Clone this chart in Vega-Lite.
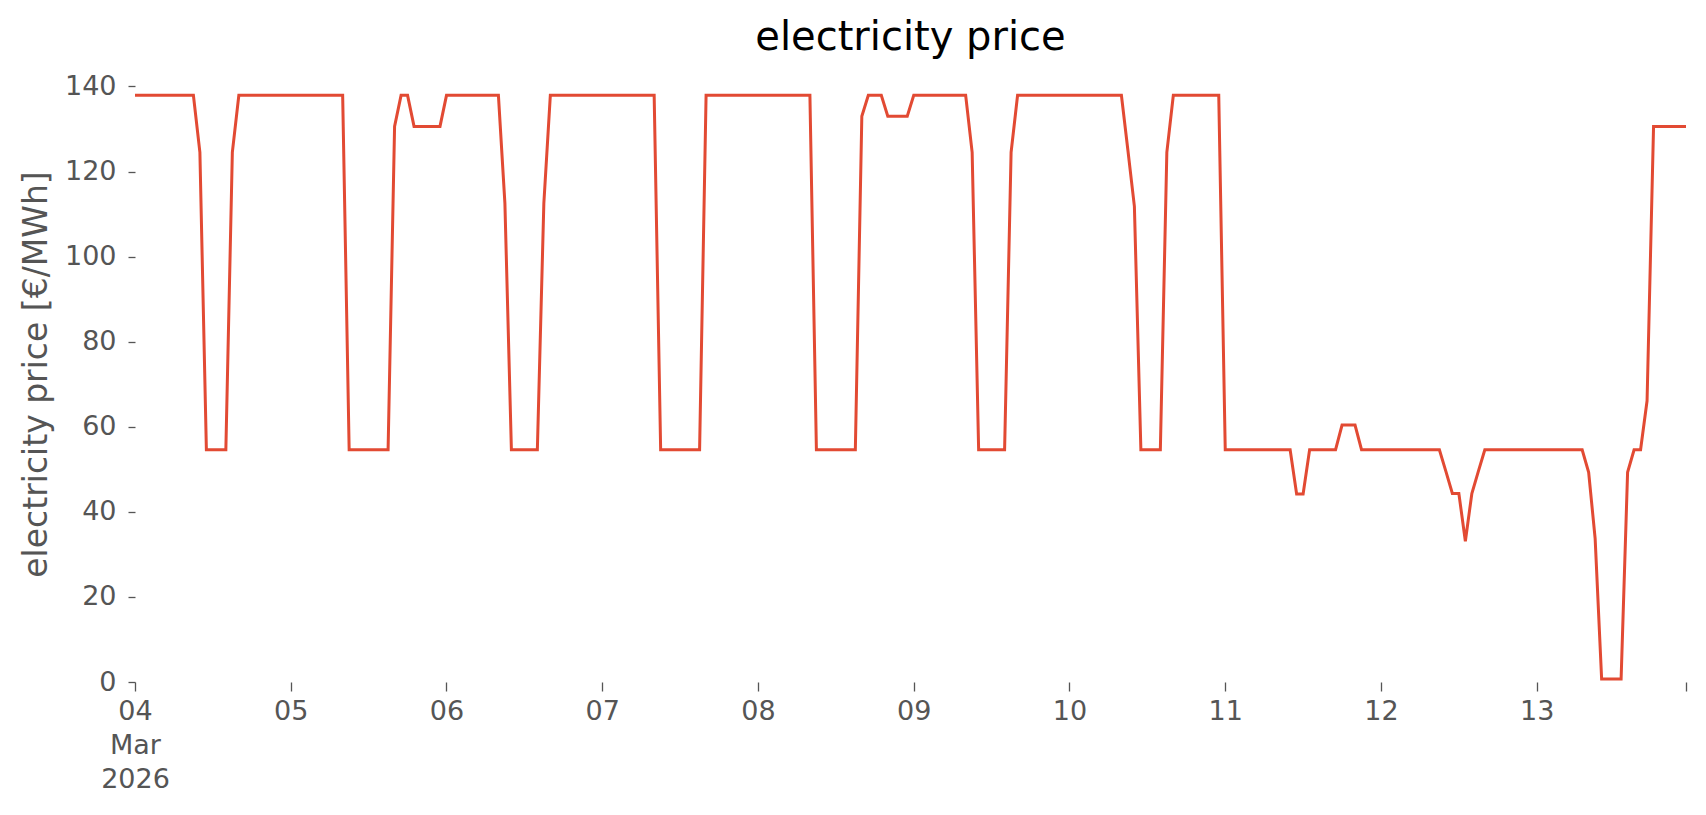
{
  "$schema": "https://vega.github.io/schema/vega-lite/v6.json",
  "autosize": {"type": "none"},
  "padding": {"left": 135, "top": 66, "right": 20, "bottom": 133},
  "width": 1551,
  "height": 616,
  "background": "white",
  "title": {"text": "electricity price", "font": "DejaVu Sans", "fontSize": 40, "fontWeight": "normal", "color": "#000000", "baseline": "alphabetic", "offset": -24, "anchor": "middle"},
  "config": {"view": {"stroke": null}, "axis": {"grid": false, "domain": false}},
  "data": {"values": [
    {"t":"2026-03-04T00:00:00Z","p":137.9},{"t":"2026-03-04T01:00:00Z","p":137.9},{"t":"2026-03-04T02:00:00Z","p":137.9},{"t":"2026-03-04T03:00:00Z","p":137.9},{"t":"2026-03-04T04:00:00Z","p":137.9},{"t":"2026-03-04T05:00:00Z","p":137.9},{"t":"2026-03-04T06:00:00Z","p":137.9},{"t":"2026-03-04T07:00:00Z","p":137.9},{"t":"2026-03-04T08:00:00Z","p":137.9},{"t":"2026-03-04T09:00:00Z","p":137.9},{"t":"2026-03-04T10:00:00Z","p":124.5},{"t":"2026-03-04T11:00:00Z","p":54.6},{"t":"2026-03-04T12:00:00Z","p":54.6},{"t":"2026-03-04T13:00:00Z","p":54.6},{"t":"2026-03-04T14:00:00Z","p":54.6},{"t":"2026-03-04T15:00:00Z","p":124.5},{"t":"2026-03-04T16:00:00Z","p":137.9},{"t":"2026-03-04T17:00:00Z","p":137.9},{"t":"2026-03-04T18:00:00Z","p":137.9},{"t":"2026-03-04T19:00:00Z","p":137.9},{"t":"2026-03-04T20:00:00Z","p":137.9},{"t":"2026-03-04T21:00:00Z","p":137.9},{"t":"2026-03-04T22:00:00Z","p":137.9},{"t":"2026-03-04T23:00:00Z","p":137.9},
    {"t":"2026-03-05T00:00:00Z","p":137.9},{"t":"2026-03-05T01:00:00Z","p":137.9},{"t":"2026-03-05T02:00:00Z","p":137.9},{"t":"2026-03-05T03:00:00Z","p":137.9},{"t":"2026-03-05T04:00:00Z","p":137.9},{"t":"2026-03-05T05:00:00Z","p":137.9},{"t":"2026-03-05T06:00:00Z","p":137.9},{"t":"2026-03-05T07:00:00Z","p":137.9},{"t":"2026-03-05T08:00:00Z","p":137.9},{"t":"2026-03-05T09:00:00Z","p":54.6},{"t":"2026-03-05T10:00:00Z","p":54.6},{"t":"2026-03-05T11:00:00Z","p":54.6},{"t":"2026-03-05T12:00:00Z","p":54.6},{"t":"2026-03-05T13:00:00Z","p":54.6},{"t":"2026-03-05T14:00:00Z","p":54.6},{"t":"2026-03-05T15:00:00Z","p":54.6},{"t":"2026-03-05T16:00:00Z","p":130.6},{"t":"2026-03-05T17:00:00Z","p":137.9},{"t":"2026-03-05T18:00:00Z","p":137.9},{"t":"2026-03-05T19:00:00Z","p":130.6},{"t":"2026-03-05T20:00:00Z","p":130.6},{"t":"2026-03-05T21:00:00Z","p":130.6},{"t":"2026-03-05T22:00:00Z","p":130.6},{"t":"2026-03-05T23:00:00Z","p":130.6},
    {"t":"2026-03-06T00:00:00Z","p":137.9},{"t":"2026-03-06T01:00:00Z","p":137.9},{"t":"2026-03-06T02:00:00Z","p":137.9},{"t":"2026-03-06T03:00:00Z","p":137.9},{"t":"2026-03-06T04:00:00Z","p":137.9},{"t":"2026-03-06T05:00:00Z","p":137.9},{"t":"2026-03-06T06:00:00Z","p":137.9},{"t":"2026-03-06T07:00:00Z","p":137.9},{"t":"2026-03-06T08:00:00Z","p":137.9},{"t":"2026-03-06T09:00:00Z","p":112.5},{"t":"2026-03-06T10:00:00Z","p":54.6},{"t":"2026-03-06T11:00:00Z","p":54.6},{"t":"2026-03-06T12:00:00Z","p":54.6},{"t":"2026-03-06T13:00:00Z","p":54.6},{"t":"2026-03-06T14:00:00Z","p":54.6},{"t":"2026-03-06T15:00:00Z","p":112.5},{"t":"2026-03-06T16:00:00Z","p":137.9},{"t":"2026-03-06T17:00:00Z","p":137.9},{"t":"2026-03-06T18:00:00Z","p":137.9},{"t":"2026-03-06T19:00:00Z","p":137.9},{"t":"2026-03-06T20:00:00Z","p":137.9},{"t":"2026-03-06T21:00:00Z","p":137.9},{"t":"2026-03-06T22:00:00Z","p":137.9},{"t":"2026-03-06T23:00:00Z","p":137.9},
    {"t":"2026-03-07T00:00:00Z","p":137.9},{"t":"2026-03-07T01:00:00Z","p":137.9},{"t":"2026-03-07T02:00:00Z","p":137.9},{"t":"2026-03-07T03:00:00Z","p":137.9},{"t":"2026-03-07T04:00:00Z","p":137.9},{"t":"2026-03-07T05:00:00Z","p":137.9},{"t":"2026-03-07T06:00:00Z","p":137.9},{"t":"2026-03-07T07:00:00Z","p":137.9},{"t":"2026-03-07T08:00:00Z","p":137.9},{"t":"2026-03-07T09:00:00Z","p":54.6},{"t":"2026-03-07T10:00:00Z","p":54.6},{"t":"2026-03-07T11:00:00Z","p":54.6},{"t":"2026-03-07T12:00:00Z","p":54.6},{"t":"2026-03-07T13:00:00Z","p":54.6},{"t":"2026-03-07T14:00:00Z","p":54.6},{"t":"2026-03-07T15:00:00Z","p":54.6},{"t":"2026-03-07T16:00:00Z","p":137.9},{"t":"2026-03-07T17:00:00Z","p":137.9},{"t":"2026-03-07T18:00:00Z","p":137.9},{"t":"2026-03-07T19:00:00Z","p":137.9},{"t":"2026-03-07T20:00:00Z","p":137.9},{"t":"2026-03-07T21:00:00Z","p":137.9},{"t":"2026-03-07T22:00:00Z","p":137.9},{"t":"2026-03-07T23:00:00Z","p":137.9},
    {"t":"2026-03-08T00:00:00Z","p":137.9},{"t":"2026-03-08T01:00:00Z","p":137.9},{"t":"2026-03-08T02:00:00Z","p":137.9},{"t":"2026-03-08T03:00:00Z","p":137.9},{"t":"2026-03-08T04:00:00Z","p":137.9},{"t":"2026-03-08T05:00:00Z","p":137.9},{"t":"2026-03-08T06:00:00Z","p":137.9},{"t":"2026-03-08T07:00:00Z","p":137.9},{"t":"2026-03-08T08:00:00Z","p":137.9},{"t":"2026-03-08T09:00:00Z","p":54.6},{"t":"2026-03-08T10:00:00Z","p":54.6},{"t":"2026-03-08T11:00:00Z","p":54.6},{"t":"2026-03-08T12:00:00Z","p":54.6},{"t":"2026-03-08T13:00:00Z","p":54.6},{"t":"2026-03-08T14:00:00Z","p":54.6},{"t":"2026-03-08T15:00:00Z","p":54.6},{"t":"2026-03-08T16:00:00Z","p":133.0},{"t":"2026-03-08T17:00:00Z","p":137.9},{"t":"2026-03-08T18:00:00Z","p":137.9},{"t":"2026-03-08T19:00:00Z","p":137.9},{"t":"2026-03-08T20:00:00Z","p":133.0},{"t":"2026-03-08T21:00:00Z","p":133.0},{"t":"2026-03-08T22:00:00Z","p":133.0},{"t":"2026-03-08T23:00:00Z","p":133.0},
    {"t":"2026-03-09T00:00:00Z","p":137.9},{"t":"2026-03-09T01:00:00Z","p":137.9},{"t":"2026-03-09T02:00:00Z","p":137.9},{"t":"2026-03-09T03:00:00Z","p":137.9},{"t":"2026-03-09T04:00:00Z","p":137.9},{"t":"2026-03-09T05:00:00Z","p":137.9},{"t":"2026-03-09T06:00:00Z","p":137.9},{"t":"2026-03-09T07:00:00Z","p":137.9},{"t":"2026-03-09T08:00:00Z","p":137.9},{"t":"2026-03-09T09:00:00Z","p":124.5},{"t":"2026-03-09T10:00:00Z","p":54.6},{"t":"2026-03-09T11:00:00Z","p":54.6},{"t":"2026-03-09T12:00:00Z","p":54.6},{"t":"2026-03-09T13:00:00Z","p":54.6},{"t":"2026-03-09T14:00:00Z","p":54.6},{"t":"2026-03-09T15:00:00Z","p":124.5},{"t":"2026-03-09T16:00:00Z","p":137.9},{"t":"2026-03-09T17:00:00Z","p":137.9},{"t":"2026-03-09T18:00:00Z","p":137.9},{"t":"2026-03-09T19:00:00Z","p":137.9},{"t":"2026-03-09T20:00:00Z","p":137.9},{"t":"2026-03-09T21:00:00Z","p":137.9},{"t":"2026-03-09T22:00:00Z","p":137.9},{"t":"2026-03-09T23:00:00Z","p":137.9},
    {"t":"2026-03-10T00:00:00Z","p":137.9},{"t":"2026-03-10T01:00:00Z","p":137.9},{"t":"2026-03-10T02:00:00Z","p":137.9},{"t":"2026-03-10T03:00:00Z","p":137.9},{"t":"2026-03-10T04:00:00Z","p":137.9},{"t":"2026-03-10T05:00:00Z","p":137.9},{"t":"2026-03-10T06:00:00Z","p":137.9},{"t":"2026-03-10T07:00:00Z","p":137.9},{"t":"2026-03-10T08:00:00Z","p":137.9},{"t":"2026-03-10T09:00:00Z","p":125.0},{"t":"2026-03-10T10:00:00Z","p":111.8},{"t":"2026-03-10T11:00:00Z","p":54.6},{"t":"2026-03-10T12:00:00Z","p":54.6},{"t":"2026-03-10T13:00:00Z","p":54.6},{"t":"2026-03-10T14:00:00Z","p":54.6},{"t":"2026-03-10T15:00:00Z","p":124.5},{"t":"2026-03-10T16:00:00Z","p":137.9},{"t":"2026-03-10T17:00:00Z","p":137.9},{"t":"2026-03-10T18:00:00Z","p":137.9},{"t":"2026-03-10T19:00:00Z","p":137.9},{"t":"2026-03-10T20:00:00Z","p":137.9},{"t":"2026-03-10T21:00:00Z","p":137.9},{"t":"2026-03-10T22:00:00Z","p":137.9},{"t":"2026-03-10T23:00:00Z","p":137.9},
    {"t":"2026-03-11T00:00:00Z","p":54.6},{"t":"2026-03-11T01:00:00Z","p":54.6},{"t":"2026-03-11T02:00:00Z","p":54.6},{"t":"2026-03-11T03:00:00Z","p":54.6},{"t":"2026-03-11T04:00:00Z","p":54.6},{"t":"2026-03-11T05:00:00Z","p":54.6},{"t":"2026-03-11T06:00:00Z","p":54.6},{"t":"2026-03-11T07:00:00Z","p":54.6},{"t":"2026-03-11T08:00:00Z","p":54.6},{"t":"2026-03-11T09:00:00Z","p":54.6},{"t":"2026-03-11T10:00:00Z","p":54.6},{"t":"2026-03-11T11:00:00Z","p":44.2},{"t":"2026-03-11T12:00:00Z","p":44.2},{"t":"2026-03-11T13:00:00Z","p":54.6},{"t":"2026-03-11T14:00:00Z","p":54.6},{"t":"2026-03-11T15:00:00Z","p":54.6},{"t":"2026-03-11T16:00:00Z","p":54.6},{"t":"2026-03-11T17:00:00Z","p":54.6},{"t":"2026-03-11T18:00:00Z","p":60.4},{"t":"2026-03-11T19:00:00Z","p":60.4},{"t":"2026-03-11T20:00:00Z","p":60.4},{"t":"2026-03-11T21:00:00Z","p":54.6},{"t":"2026-03-11T22:00:00Z","p":54.6},{"t":"2026-03-11T23:00:00Z","p":54.6},
    {"t":"2026-03-12T00:00:00Z","p":54.6},{"t":"2026-03-12T01:00:00Z","p":54.6},{"t":"2026-03-12T02:00:00Z","p":54.6},{"t":"2026-03-12T03:00:00Z","p":54.6},{"t":"2026-03-12T04:00:00Z","p":54.6},{"t":"2026-03-12T05:00:00Z","p":54.6},{"t":"2026-03-12T06:00:00Z","p":54.6},{"t":"2026-03-12T07:00:00Z","p":54.6},{"t":"2026-03-12T08:00:00Z","p":54.6},{"t":"2026-03-12T09:00:00Z","p":54.6},{"t":"2026-03-12T10:00:00Z","p":49.5},{"t":"2026-03-12T11:00:00Z","p":44.3},{"t":"2026-03-12T12:00:00Z","p":44.3},{"t":"2026-03-12T13:00:00Z","p":33.1},{"t":"2026-03-12T14:00:00Z","p":44.3},{"t":"2026-03-12T15:00:00Z","p":49.5},{"t":"2026-03-12T16:00:00Z","p":54.6},{"t":"2026-03-12T17:00:00Z","p":54.6},{"t":"2026-03-12T18:00:00Z","p":54.6},{"t":"2026-03-12T19:00:00Z","p":54.6},{"t":"2026-03-12T20:00:00Z","p":54.6},{"t":"2026-03-12T21:00:00Z","p":54.6},{"t":"2026-03-12T22:00:00Z","p":54.6},{"t":"2026-03-12T23:00:00Z","p":54.6},
    {"t":"2026-03-13T00:00:00Z","p":54.6},{"t":"2026-03-13T01:00:00Z","p":54.6},{"t":"2026-03-13T02:00:00Z","p":54.6},{"t":"2026-03-13T03:00:00Z","p":54.6},{"t":"2026-03-13T04:00:00Z","p":54.6},{"t":"2026-03-13T05:00:00Z","p":54.6},{"t":"2026-03-13T06:00:00Z","p":54.6},{"t":"2026-03-13T07:00:00Z","p":54.6},{"t":"2026-03-13T08:00:00Z","p":49.3},{"t":"2026-03-13T09:00:00Z","p":33.7},{"t":"2026-03-13T10:00:00Z","p":0.7},{"t":"2026-03-13T11:00:00Z","p":0.7},{"t":"2026-03-13T12:00:00Z","p":0.7},{"t":"2026-03-13T13:00:00Z","p":0.7},{"t":"2026-03-13T14:00:00Z","p":49.3},{"t":"2026-03-13T15:00:00Z","p":54.6},{"t":"2026-03-13T16:00:00Z","p":54.6},{"t":"2026-03-13T17:00:00Z","p":66.1},{"t":"2026-03-13T18:00:00Z","p":130.6},{"t":"2026-03-13T19:00:00Z","p":130.6},{"t":"2026-03-13T20:00:00Z","p":130.6},{"t":"2026-03-13T21:00:00Z","p":130.6},{"t":"2026-03-13T22:00:00Z","p":130.6},{"t":"2026-03-13T23:00:00Z","p":130.6}
  ]},
  "mark": {"type": "line", "color": "#E24A33", "strokeWidth": 3, "clip": true},
  "encoding": {
    "x": {
      "field": "t", "type": "temporal",
      "scale": {"type": "utc", "domain": [{"year": 2026, "month": 3, "date": 4, "utc": true}, {"year": 2026, "month": 3, "date": 13, "hours": 23, "utc": true}], "nice": false},
      "axis": {
        "title": null,
        "values": [
          {"year": 2026, "month": 3, "date": 4, "utc": true},
          {"year": 2026, "month": 3, "date": 5, "utc": true},
          {"year": 2026, "month": 3, "date": 6, "utc": true},
          {"year": 2026, "month": 3, "date": 7, "utc": true},
          {"year": 2026, "month": 3, "date": 8, "utc": true},
          {"year": 2026, "month": 3, "date": 9, "utc": true},
          {"year": 2026, "month": 3, "date": 10, "utc": true},
          {"year": 2026, "month": 3, "date": 11, "utc": true},
          {"year": 2026, "month": 3, "date": 12, "utc": true},
          {"year": 2026, "month": 3, "date": 13, "utc": true},
          {"year": 2026, "month": 3, "date": 13, "hours": 23, "utc": true}
        ],
        "labelExpr": "utcFormat(datum.value, '%H') == '23' ? '' : (utcFormat(datum.value, '%d') == '04' ? ['04', 'Mar', '2026'] : utcFormat(datum.value, '%d'))",
        "labelFont": "DejaVu Sans", "labelFontSize": 27, "labelColor": "#555555",
        "labelLineHeight": 34, "labelPadding": 7, "labelOverlap": false, "labelFlush": false,
        "tickColor": "#555555", "tickSize": 9, "tickWidth": 1.3
      }
    },
    "y": {
      "field": "p", "type": "quantitative",
      "scale": {"domain": [0, 144.8], "nice": false, "zero": false},
      "axis": {
        "title": "electricity price [€/MWh]",
        "values": [0, 20, 40, 60, 80, 100, 120, 140],
        "titleFont": "DejaVu Sans", "titleFontSize": 33, "titleFontWeight": "normal", "titleColor": "#555555", "titlePadding": 11,
        "labelFont": "DejaVu Sans", "labelFontSize": 27, "labelColor": "#555555", "labelPadding": 12, "labelFlush": false,
        "tickColor": "#555555", "tickSize": 7, "tickWidth": 1.3
      }
    }
  }
}
